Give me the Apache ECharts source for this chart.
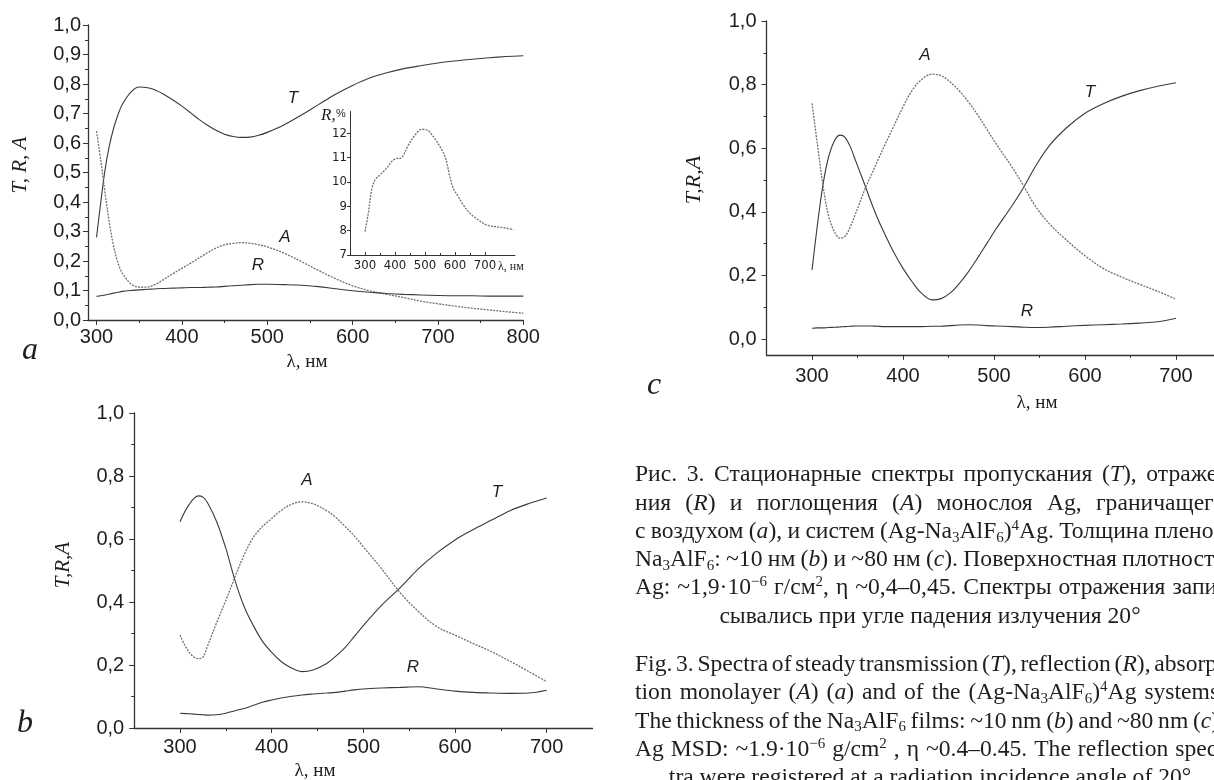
<!DOCTYPE html>
<html><head><meta charset="utf-8">
<script src="https://cdn.jsdelivr.net/npm/echarts@6/dist/echarts.min.js"></script>
<style>html,body{margin:0;padding:0;background:#fff}#c{width:1214px;height:780px}</style>
</head><body><div id="c"></div><script>
// ---------------- DATA ----------------
// Panel a: Ag monolayer on air
const wlA = [300,305,310,315,320,325,330,340,350,360,370,380,390,400,410,420,430,440,450,460,470,480,490,500,520,540,560,580,600,620,640,660,680,700,720,740,760,780,800];
const tA  = [0.28,0.40,0.51,0.59,0.65,0.695,0.73,0.772,0.79,0.787,0.778,0.763,0.745,0.725,0.703,0.68,0.66,0.643,0.63,0.622,0.619,0.62,0.626,0.636,0.662,0.695,0.73,0.765,0.795,0.82,0.838,0.852,0.862,0.871,0.878,0.884,0.889,0.893,0.896];
const aA  = [0.64,0.54,0.43,0.33,0.25,0.195,0.16,0.123,0.111,0.112,0.122,0.14,0.158,0.175,0.192,0.21,0.228,0.244,0.255,0.26,0.262,0.26,0.255,0.248,0.226,0.198,0.168,0.14,0.116,0.099,0.087,0.076,0.064,0.055,0.047,0.04,0.034,0.028,0.023];
const rA  = [0.08,0.082,0.085,0.088,0.091,0.094,0.097,0.10,0.102,0.104,0.106,0.107,0.108,0.109,0.11,0.11,0.111,0.112,0.114,0.116,0.118,0.12,0.121,0.121,0.12,0.118,0.113,0.106,0.099,0.094,0.09,0.087,0.085,0.083,0.082,0.082,0.081,0.081,0.081];
// Inset of panel a: R, %
const wlIn = [300,311,322,333,350,372,389,406,417,428,444,467,489,506,528,550,567,583,594,611,628,650,678,706,739,772,795];
const rIn  = [7.96,8.71,9.67,10.08,10.29,10.56,10.84,10.97,10.97,11.1,11.5,11.93,12.16,12.14,11.86,11.45,11.04,10.22,9.74,9.40,9.05,8.71,8.44,8.23,8.16,8.10,8.03];
// Panel b: Na3AlF6 ~10 nm
const wlB = [300,310,320,325,330,340,350,360,370,380,390,400,410,420,433,445,460,470,480,490,500,520,540,560,580,600,620,640,660,680,700];
const tB  = [0.655,0.71,0.737,0.733,0.715,0.655,0.57,0.468,0.385,0.325,0.275,0.24,0.212,0.193,0.179,0.184,0.205,0.228,0.255,0.29,0.325,0.39,0.445,0.505,0.555,0.597,0.63,0.66,0.69,0.712,0.73];
const aB  = [0.295,0.24,0.22,0.225,0.26,0.335,0.405,0.48,0.55,0.605,0.64,0.665,0.69,0.708,0.718,0.712,0.69,0.668,0.64,0.61,0.575,0.505,0.43,0.37,0.322,0.295,0.268,0.242,0.212,0.18,0.147];
const rB  = [0.047,0.045,0.043,0.042,0.041,0.042,0.047,0.055,0.062,0.072,0.082,0.089,0.095,0.1,0.105,0.108,0.111,0.113,0.117,0.121,0.124,0.127,0.129,0.131,0.124,0.117,0.113,0.111,0.11,0.111,0.12];
// Panel c: Na3AlF6 ~80 nm
const wlC = [300,306,312,318,325,331,336,342,348,354,359,365,372,380,390,400,410,420,432,442,452,462,472,482,492,502,520,533,545,560,580,600,620,640,660,680,700];
const tC  = [0.217,0.36,0.484,0.57,0.625,0.641,0.635,0.605,0.56,0.515,0.477,0.43,0.38,0.33,0.272,0.222,0.18,0.145,0.123,0.127,0.145,0.175,0.212,0.255,0.3,0.345,0.42,0.479,0.54,0.605,0.665,0.71,0.74,0.763,0.781,0.795,0.806];
const aC  = [0.741,0.61,0.484,0.39,0.335,0.317,0.322,0.352,0.395,0.44,0.477,0.515,0.56,0.61,0.67,0.73,0.782,0.815,0.833,0.828,0.808,0.78,0.745,0.705,0.66,0.615,0.54,0.479,0.42,0.365,0.31,0.262,0.222,0.195,0.172,0.15,0.125];
const rC  = [0.034,0.035,0.035,0.036,0.037,0.038,0.039,0.04,0.041,0.041,0.041,0.041,0.04,0.039,0.039,0.039,0.039,0.039,0.04,0.04,0.042,0.044,0.045,0.044,0.042,0.041,0.039,0.037,0.036,0.037,0.04,0.043,0.045,0.047,0.05,0.054,0.065];

// ---------------- TEXT ----------------
const captionRu = [
  "Рис. 3. Стационарные спектры пропускания (*T*), отраже-",
  "ния (*R*) и поглощения (*A*) монослоя Ag, граничащего",
  "с воздухом (*a*), и систем (Ag-Na_{3}AlF_{6})^{4}Ag. Толщина пленок",
  "Na_{3}AlF_{6}: ~10 нм (*b*) и ~80 нм (*c*). Поверхностная плотность",
  "Ag: ~1,9·10^{−6} г/см^{2}, η ~0,4–0,45. Спектры отражения запи-",
  "сывались при угле падения излучения 20°"
];
const captionEn = [
  "Fig. 3. Spectra of steady transmission (*T*), reflection (*R*), absorp-",
  "tion monolayer (*A*) (*a*) and of the (Ag-Na_{3}AlF_{6})^{4}Ag systems.",
  "The thickness of the Na_{3}AlF_{6} films: ~10 nm (*b*) and ~80 nm (*c*).",
  "Ag MSD: ~1.9·10^{−6} g/cm^{2} , η ~0.4–0.45. The reflection spec-",
  "tra were registered at a radiation incidence angle of 20°"
];

// ---------------- STYLE / LAYOUT ----------------
const SANS = "'Liberation Sans', Arial, sans-serif";
const SERIF = "'Liberation Serif', 'Times New Roman', serif";
const NARROW = "'Liberation Sans Narrow', 'DejaVu Sans Condensed', sans-serif";
const AX = '#333';
const INK = '#1e1e1e';
const SOLID = {color:'#3a3a3a', width:1.1, type:'solid'};
const DOTTED = {color:'#707070', width:1.3, type:[2,1.2]};

const panels = [
  {box:{left:88, top:25, width:435.3, height:295}, xr:[290,800], yr:[0,1], xt:[300,800,100], yt:[0,1,0.1],
   fs:20, ff:SANS, xm:7, ym:7, tl:5, mtl:3, xIn:false, yMinor:true, dec:1, lw:1.3},
  {box:{left:350, top:111.4, width:165, height:143.6}, xr:[250,800], yr:[7,12.9], xt:[300,700,100], yt:[7,12,1],
   fs:13, ff:NARROW, xm:4, ym:3, tl:3, mtl:2, xIn:true, yMinor:false, dec:0, lw:1},
  {box:{left:134.2, top:413, width:458.3, height:315}, xr:[250,750], yr:[0,1], xt:[300,700,100], yt:[0,1,0.2],
   fs:20, ff:SANS, xm:9, ym:10, tl:5, mtl:3, xIn:false, yMinor:true, dec:1, lw:1.3},
  {box:{left:766.5, top:21, width:455, height:333.9}, xr:[250,750], yr:[-0.05,1], xt:[300,700,100], yt:[0,1,0.2],
   fs:20, ff:SANS, xm:12, ym:10, tl:5, mtl:3, xIn:false, yMinor:true, dec:1, lw:1.3}
];

const grid=[], xAxis=[], yAxis=[], series=[];
function addGrid(g){ grid.push(Object.assign({outerBoundsMode:'none', containLabel:false, show:false}, g)); return grid.length-1; }
function fmt(dec){ return v => dec ? Number(v).toFixed(dec).replace('.', ',') : String(Math.round(v)); }

function buildPanel(p){
  const lineStyle = {color:AX, width:p.lw};
  const gD = addGrid(p.box);
  xAxis.push({gridIndex:gD, type:'value', min:p.xr[0], max:p.xr[1], axisLine:{show:true,onZero:false,lineStyle},
    axisTick:{show:false}, axisLabel:{show:false}, splitLine:{show:false}});
  const xD = xAxis.length-1;
  yAxis.push({gridIndex:gD, type:'value', min:p.yr[0], max:p.yr[1], axisLine:{show:true,onZero:false,lineStyle},
    axisTick:{show:false}, axisLabel:{show:false}, splitLine:{show:false}});
  const yD = yAxis.length-1;
  const sx = p.box.width/(p.xr[1]-p.xr[0]);
  const gX = addGrid({left:p.box.left+(p.xt[0]-p.xr[0])*sx, width:(p.xt[1]-p.xt[0])*sx, top:p.box.top, height:p.box.height});
  xAxis.push({gridIndex:gX, type:'value', min:p.xt[0], max:p.xt[1], interval:p.xt[2],
    axisLine:{show:false,onZero:false}, axisTick:{show:true, inside:p.xIn, length:p.tl, lineStyle:{color:AX,width:1}},
    minorTick:{show:true, splitNumber:2, length:p.mtl, lineStyle:{color:AX,width:1}},
    axisLabel:{show:true, margin:p.xm, fontFamily:p.ff, fontSize:p.fs, color:INK, formatter:v=>String(v)},
    splitLine:{show:false}, minorSplitLine:{show:false}});
  yAxis.push({gridIndex:gX, type:'value', min:0, max:1, show:false});
  const sy = p.box.height/(p.yr[1]-p.yr[0]);
  const gY = addGrid({left:p.box.left, width:p.box.width, top:p.box.top+(p.yr[1]-p.yt[1])*sy, height:(p.yt[1]-p.yt[0])*sy});
  xAxis.push({gridIndex:gY, type:'value', min:0, max:1, show:false});
  yAxis.push({gridIndex:gY, type:'value', min:p.yt[0], max:p.yt[1], interval:p.yt[2],
    axisLine:{show:false,onZero:false}, axisTick:{show:true, length:p.tl, lineStyle:{color:AX,width:1}},
    minorTick:{show:p.yMinor, splitNumber:2, length:p.mtl, lineStyle:{color:AX,width:1}},
    axisLabel:{show:true, margin:p.ym, fontFamily:p.ff, fontSize:p.fs, color:INK, formatter:fmt(p.dec)},
    splitLine:{show:false}, minorSplitLine:{show:false}});
  return {xD, yD};
}
function zip(x, y){ return x.map((v,i)=>[v,y[i]]); }
function addLine(ax, x, y, style){
  series.push({type:'line', xAxisIndex:ax.xD, yAxisIndex:ax.yD, data:zip(x,y), showSymbol:false, symbol:'none',
    smooth:0.35, silent:true, lineStyle:style, z:3});
}

const axA = buildPanel(panels[0]);
const axIn = buildPanel(panels[1]);
const axB = buildPanel(panels[2]);
const axC = buildPanel(panels[3]);
addLine(axA, wlA, tA, SOLID); addLine(axA, wlA, aA, DOTTED); addLine(axA, wlA, rA, SOLID);
addLine(axIn, wlIn, rIn, DOTTED);
addLine(axB, wlB, tB, SOLID); addLine(axB, wlB, aB, DOTTED); addLine(axB, wlB, rB, SOLID);
addLine(axC, wlC, tC, SOLID); addLine(axC, wlC, aC, DOTTED); addLine(axC, wlC, rC, SOLID);

// ---------------- ANNOTATIONS ----------------
const graphic = [];
function txt(t, x, y, font, opt){
  opt = opt || {};
  graphic.push({type:'text', x, y, rotation:opt.rot||0, silent:true, z:10,
    style:{text:t, font, fill:INK, align:opt.align||'center', verticalAlign:'middle', textAlign:opt.align||'center', textVerticalAlign:'middle'}});
}
const curveFont = `italic 17px ${SANS}`;
txt('T', 293, 98, curveFont); txt('A', 285, 237, curveFont); txt('R', 258, 265, curveFont);
txt('A', 307, 480, curveFont); txt('T', 497, 492, curveFont); txt('R', 413, 667, curveFont);
txt('A', 925, 55, curveFont); txt('T', 1090, 92, curveFont); txt('R', 1027, 311, curveFont);
txt('T, R, A', 20, 165, `italic 21px ${SERIF}`, {rot:Math.PI/2});
txt('T,R,A', 63, 565, `italic 21px ${SERIF}`, {rot:Math.PI/2});
txt('T,R,A', 694, 180, `italic 22px ${SERIF}`, {rot:Math.PI/2});
txt('λ, нм', 307, 362, `19px ${SERIF}`);
txt('λ, нм', 315, 771, `19px ${SERIF}`);
txt('λ, нм', 1037, 403, `19px ${SERIF}`);
txt('a', 30, 351, `italic 32px ${SERIF}`);
txt('b', 25, 724, `italic 32px ${SERIF}`);
txt('c', 654, 386, `italic 32px ${SERIF}`);
txt('R,', 321, 116, `italic 17px ${SERIF}`, {align:'left'});
txt('%', 336, 114, `11px ${SANS}`, {align:'left'});
txt('λ, нм', 498, 267, `12px ${SERIF}`, {align:'left'});

// ---------------- CAPTION ----------------
const FS = 23.6, LH = 27, SUBFS = 15;
const RICH = {
  r:{fontFamily:SERIF, fontSize:FS, lineHeight:LH, fill:INK},
  i:{fontFamily:SERIF, fontSize:FS, lineHeight:LH, fontStyle:'italic', fill:INK},
  sb:{fontFamily:SERIF, fontSize:SUBFS, lineHeight:SUBFS, verticalAlign:'bottom', fill:INK},
  sp:{fontFamily:SERIF, fontSize:SUBFS, lineHeight:SUBFS, verticalAlign:'top', fill:INK}
};
const FONTS = {r:`${FS}px ${SERIF}`, i:`italic ${FS}px ${SERIF}`, sb:`${SUBFS}px ${SERIF}`, sp:`${SUBFS}px ${SERIF}`};
const ctx = document.createElement('canvas').getContext('2d');
function measure(s, key){ ctx.font = FONTS[key]; return ctx.measureText(s).width; }
function parseWord(w){
  const segs=[]; let italic=false, buf='', i=0;
  const flush=()=>{ if(buf){ segs.push([italic?'i':'r', buf]); buf=''; } };
  while(i<w.length){
    const ch=w[i];
    if(ch==='*'){ flush(); italic=!italic; i++; continue; }
    if((ch==='_'||ch==='^') && w[i+1]==='{'){
      flush(); const j=w.indexOf('}', i);
      segs.push([ch==='_'?'sb':'sp', w.slice(i+2,j)]); i=j+1; continue;
    }
    buf+=ch; i++;
  }
  flush();
  return segs;
}
function wordInfo(w){
  const segs=parseWord(w);
  return {rich:segs.map(s=>`{${s[0]}|${s[1]}}`).join(''), width:segs.reduce((a,s)=>a+measure(s[1],s[0]),0)};
}
const CAP_L = 635, CAP_R = 1225;
function placeLine(str, y, mode){
  const words = str.split(' ').map(wordInfo);
  const total = words.reduce((a,w)=>a+w.width,0);
  const sp = measure(' ','r');
  let x, gap;
  if(mode==='j'){ x=CAP_L; gap=(CAP_R-CAP_L-total)/(words.length-1); }
  else { gap=sp; x=(CAP_L+CAP_R)/2-(total+gap*(words.length-1))/2; }
  words.forEach(w=>{
    graphic.push({type:'text', x, y, silent:true, z:10,
      style:{text:w.rich, rich:RICH, align:'left', verticalAlign:'middle', textAlign:'left', textVerticalAlign:'middle'}});
    x += w.width + gap;
  });
}
const ruY = [475, 503.5, 532, 560, 588, 617];
const enY = [665, 693, 721.5, 750, 778];
captionRu.forEach((s,i)=>placeLine(s, ruY[i], i<5?'j':'c'));
captionEn.forEach((s,i)=>placeLine(s, enY[i], i<4?'j':'c'));

const chart = echarts.init(document.getElementById('c'), null, {renderer:'canvas', width:1214, height:780});
chart.setOption({animation:false, backgroundColor:'#ffffff', grid, xAxis, yAxis, series, graphic});
</script></body></html>
